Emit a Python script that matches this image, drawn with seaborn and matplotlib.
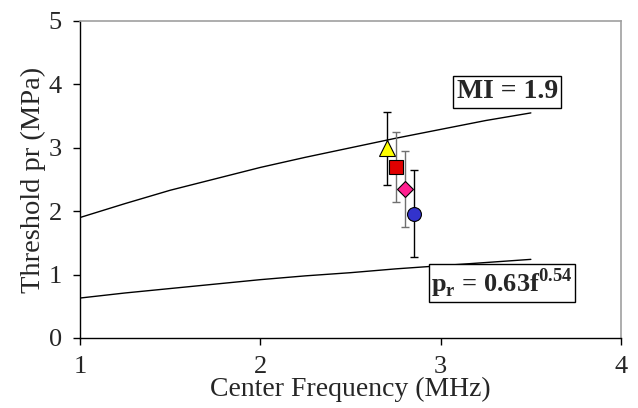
import matplotlib
matplotlib.use('Agg')
import matplotlib.pyplot as plt
import seaborn as sns
import pandas as pd

# curves (MPa vs MHz)
freq_curve = [1.0, 1.25, 1.5, 1.75, 2.0, 2.25, 2.5, 2.75, 3.0, 3.25, 3.5]
mi_curve = [1.90, 2.12, 2.33, 2.51, 2.69, 2.85, 3.00, 3.15, 3.29, 3.43, 3.55]
fit_curve = [0.63, 0.71, 0.78, 0.85, 0.92, 0.98, 1.03, 1.09, 1.14, 1.19, 1.24]

# measured thresholds
pt_freq = [2.70, 2.75, 2.80, 2.85]
pt_thresh = [2.99, 2.70, 2.35, 1.96]
pt_err = [0.57, 0.55, 0.60, 0.69]
pt_marker = ['^', 's', 'D', 'o']
pt_color = ['#ffff00', '#e00000', '#ff1f8f', '#3333cc']
pt_size = [12, 10, 8.5, 10]
err_color = ['black', '#707070', '#707070', 'black']

sns.set_style('ticks')
plt.rcParams['font.family'] = ['Liberation Serif', 'DejaVu Serif']
plt.rcParams['mathtext.fontset'] = 'custom'
plt.rcParams['mathtext.rm'] = 'Liberation Serif'
plt.rcParams['mathtext.bf'] = 'Liberation Serif:bold'

fig = plt.figure(figsize=(6.38, 4.08), dpi=100)
ax = fig.add_axes([0.1254, 0.1716, 0.848, 0.777])

curves = pd.DataFrame({'f': freq_curve, 'mi': mi_curve, 'fit': fit_curve})
sns.lineplot(data=curves, x='f', y='mi', color='black', lw=1, ax=ax)
sns.lineplot(data=curves, x='f', y='fit', color='black', lw=1, ax=ax)

for i in range(len(pt_freq)):
    ax.errorbar(pt_freq[i], pt_thresh[i], yerr=pt_err[i], fmt='none',
                ecolor=err_color[i], elinewidth=1, capsize=2.7, capthick=1, zorder=3)
    ax.plot(pt_freq[i], pt_thresh[i], marker=pt_marker[i], ms=pt_size[i],
            mfc=pt_color[i], mec='black', mew=0.8, ls='none', zorder=4)

ax.set_xlim(1, 4)
ax.set_ylim(0, 5)
ax.set_xticks([1, 2, 3, 4])
ax.set_yticks([0, 1, 2, 3, 4, 5])
ax.tick_params(labelsize=19, length=5, width=1, color='black')
ax.tick_params(axis='x', pad=8)
ax.tick_params(axis='y', pad=8)
ax.set_xlabel('Center Frequency (MHz)', fontsize=20, labelpad=-1)
ax.set_ylabel('Threshold pr (MPa)', fontsize=20.5, labelpad=2)

for s in ['left', 'bottom']:
    ax.spines[s].set_color('black')
    ax.spines[s].set_linewidth(1)
for s in ['top', 'right']:
    ax.spines[s].set_visible(True)
    ax.spines[s].set_color('#a0a0a0')
    ax.spines[s].set_linewidth(1.2)

box = dict(boxstyle='square,pad=0.12', fc='white', ec='black', lw=1)
ax.text(3.37, 3.88, 'MI = 1.9', fontsize=20, fontweight='bold',
        ha='center', va='center', bbox=box)
ax.text(3.34, 0.87, r'p$_\mathbf{r}$ = 0.63f$^{\mathbf{0.54}}$', fontsize=19,
        fontweight='bold', ha='center', va='center',
        bbox=dict(boxstyle='square,pad=0.08', fc='white', ec='black', lw=1))

fig.savefig('out.png', dpi=100)
